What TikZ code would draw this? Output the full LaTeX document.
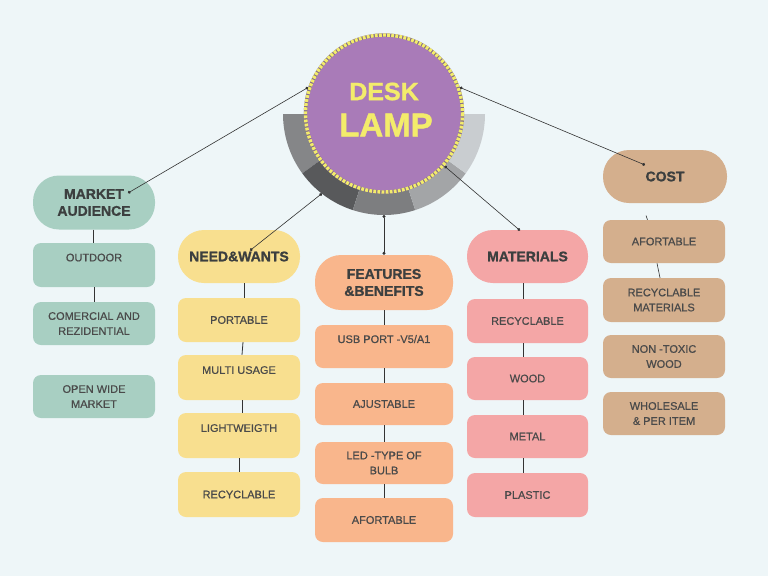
\documentclass[tikz,border=0pt]{standalone}
\usepackage{fontspec}
\setmainfont{Liberation Sans}[BoldFont={Liberation Sans Bold}]
\newfontfamily\lblfont{Liberation Sans}[FakeBold=0.6]
\newfontfamily\hdfont{Liberation Sans Bold}[FakeBold=1.2]
\usetikzlibrary{arrows.meta}
\definecolor{bg}{HTML}{EEF6F8}
\definecolor{sage}{HTML}{A8CFC2}
\definecolor{ylw}{HTML}{F8DF8F}
\definecolor{org}{HTML}{F9B68C}
\definecolor{pnk}{HTML}{F4A6A6}
\definecolor{tan}{HTML}{D4AF8D}
\definecolor{purp}{HTML}{A97BB8}
\definecolor{lampy}{HTML}{F3EC6B}
\definecolor{headtxt}{HTML}{3C3F3F}
\definecolor{smalltxt}{HTML}{4A4A4A}
\definecolor{lnk}{HTML}{333333}
\definecolor{sA}{HTML}{858688}
\definecolor{sB}{HTML}{58595B}
\definecolor{sC}{HTML}{7D7E80}
\definecolor{sD}{HTML}{A3A5A7}
\definecolor{sE}{HTML}{C9CDD0}
\begin{document}
\begin{tikzpicture}[x=1pt,y=-1pt,
  box/.style={rectangle, rounded corners=8pt, minimum width=122pt, minimum height=44pt,
    inner sep=2pt, align=center, text=smalltxt, font=\lblfont\fontsize{11}{15}\selectfont},
  head/.style={rectangle, rounded corners=26pt, minimum width=122pt, minimum height=54pt,
    inner sep=2pt, align=center, text=headtxt, font=\hdfont\fontsize{14}{17}\selectfont},
  link/.style={draw=lnk, line width=0.6pt, {Circle[length=3pt]}-{Circle[length=3pt]}},
  vlink/.style={draw=lnk, line width=0.8pt}
]
\useasboundingbox (0,0) rectangle (768,576);
\fill[bg] (0,0) rectangle (768,576);

% half ring behind the lamp
\begin{scope}[shift={(384,114)}]
  \fill[sA] plot[domain=180:144,samples=24] (\x:101) -- plot[domain=144:180,samples=24] (\x:76) -- cycle;
  \fill[sB] plot[domain=144:108,samples=24] (\x:101) -- plot[domain=108:144,samples=24] (\x:76) -- cycle;
  \fill[sC] plot[domain=108:72,samples=24] (\x:101) -- plot[domain=72:108,samples=24] (\x:76) -- cycle;
  \fill[sD] plot[domain=72:36,samples=24] (\x:101) -- plot[domain=36:72,samples=24] (\x:76) -- cycle;
  \fill[sE] plot[domain=36:0,samples=24] (\x:101) -- plot[domain=0:36,samples=24] (\x:76) -- cycle;
  \coordinate (annLL) at (128:101);
  \coordinate (annB) at (90:101);
\end{scope}

% central lamp
\node[circle, minimum size=157pt, inner sep=0pt, fill=purp, draw=purp!60!black!80, line width=3.4pt] (lamp) at (384,113.5) {};
\draw[lampy, line width=3.4pt, dash pattern=on 2.8pt off 1.3pt] (lamp.center) circle[radius=78.5];
\node[text=lampy, font=\hdfont\fontsize{25}{25}\selectfont] (desk) at (384,91.5) {DESK};
\node[text=lampy, font=\hdfont\fontsize{33}{33}\selectfont] (lampt) at (386,125) {LAMP};

% MARKET AUDIENCE
\node[head, fill=sage] (mkt) at (94,202.5) {MARKET\\AUDIENCE};
\node[box, fill=sage] (mk1) at (94,265) {OUTDOOR\\\mbox{}};
\node[box, fill=sage, minimum height=43pt] (mk2) at (94,323.5) {COMERCIAL AND\\REZIDENTIAL};
\node[box, fill=sage, minimum height=43pt] (mk3) at (94,396.5) {OPEN WIDE\\MARKET};

% NEED&WANTS
\node[head, fill=ylw, minimum height=53pt] (nw) at (239,256.5) {NEED\&WANTS};
\node[box, fill=ylw] (nw1) at (239,320) {PORTABLE};
\node[box, fill=ylw, minimum height=45pt] (nw2) at (239,377.5) {MULTI USAGE\\\mbox{}};
\node[box, fill=ylw, minimum height=45pt] (nw3) at (239,435.5) {LIGHTWEIGTH\\\mbox{}};
\node[box, fill=ylw, minimum height=45pt] (nw4) at (239,494.5) {RECYCLABLE};

% FEATURES &BENEFITS
\node[head, fill=org, minimum width=138pt, minimum height=55pt] (fb) at (384,282.5) {FEATURES\\\&BENEFITS};
\node[box, fill=org, minimum width=138pt, minimum height=43pt] (fb1) at (384,346.5) {USB PORT -V5/A1\\\mbox{}};
\node[box, fill=org, minimum width=138pt, minimum height=42pt] (fb2) at (384,404) {AJUSTABLE};
\node[box, fill=org, minimum width=138pt, minimum height=42pt] (fb3) at (384,463) {LED -TYPE OF\\BULB};
\node[box, fill=org, minimum width=138pt, minimum height=44pt] (fb4) at (384,520) {AFORTABLE};

% MATERIALS
\node[head, fill=pnk, minimum width=121pt, minimum height=53pt] (mt) at (527.5,256.5) {MATERIALS};
\node[box, fill=pnk, minimum width=121pt] (mt1) at (527.5,321) {RECYCLABLE};
\node[box, fill=pnk, minimum width=121pt, minimum height=43pt] (mt2) at (527.5,378.5) {WOOD};
\node[box, fill=pnk, minimum width=121pt, minimum height=43pt] (mt3) at (527.5,436.5) {METAL};
\node[box, fill=pnk, minimum width=121pt] (mt4) at (527.5,495) {PLASTIC};

% COST
\node[head, fill=tan, minimum width=124pt, minimum height=53pt] (cs) at (665,176.5) {COST};
\node[box, fill=tan, minimum height=43pt] (cs1) at (664,241.5) {AFORTABLE};
\node[box, fill=tan] (cs2) at (664,300) {RECYCLABLE\\MATERIALS};
\node[box, fill=tan, minimum height=43pt] (cs3) at (664,356.5) {NON -TOXIC\\WOOD};
\node[box, fill=tan, minimum height=43pt] (cs4) at (664,413.5) {WHOLESALE\\\& PER ITEM};

% vertical connectors
\draw[vlink] ([xshift=-1pt]mkt.south) -- ([xshift=-1pt]mk1.north);
\draw[vlink] (mk1.south) -- (mk2.north);
\draw[vlink] ([xshift=5pt]nw.south) -- ([xshift=5pt]nw1.north);
\draw[vlink] ([xshift=4pt]nw1.south) -- ([xshift=3pt]nw2.north);
\draw[vlink] ([xshift=3pt]nw2.south) -- ([xshift=3pt]nw3.north);
\draw[vlink] ([xshift=0.5pt]nw3.south) -- ([xshift=0.5pt]nw4.north);
\draw[vlink] (fb.south) -- (fb1.north);
\draw[vlink] (fb1.south) -- (fb2.north);
\draw[vlink] (fb2.south) -- (fb3.north);
\draw[vlink] (fb3.south) -- (fb4.north);
\draw[vlink] ([xshift=-4.5pt]mt.south) -- ([xshift=-4.5pt]mt1.north);
\draw[vlink] ([xshift=-4.5pt]mt1.south) -- ([xshift=-4.5pt]mt2.north);
\draw[vlink] ([xshift=-4.5pt]mt2.south) -- ([xshift=-4.5pt]mt3.north);
\draw[vlink] ([xshift=-4.5pt]mt3.south) -- ([xshift=-4.5pt]mt4.north);
\coordinate (csstub) at (646,215.5);
\draw[vlink, line width=0.6pt] (csstub) -- ([xshift=-16.5pt]cs1.north);
\draw[vlink, line width=0.6pt] ([xshift=-7pt]cs1.south) -- ([xshift=-4pt]cs2.north);

% main connectors
\draw[link] (lamp.161.7) -- ([shift={(34,-9.5)}]mkt.center);
\draw[link] (lamp.19.3) -- ([shift={(-20,-11.5)}]cs.center);
\draw[link] (annLL) -- ([shift={(11,-6)}]nw.center);
\draw[link] (annB) -- (fb.north);
\draw[link] (lamp.-41.7) -- ([shift={(-7.5,-26)}]mt.center);
\end{tikzpicture}
\end{document}
